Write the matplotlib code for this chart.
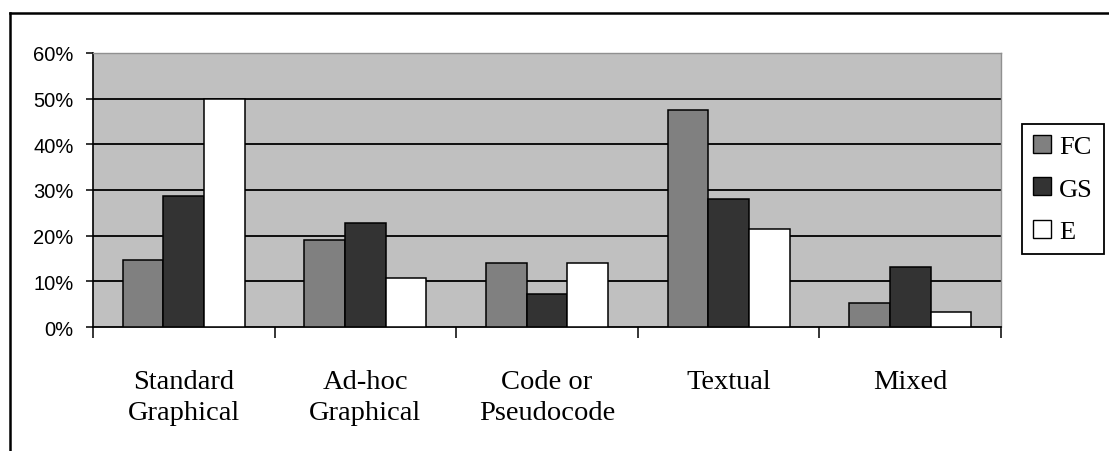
import matplotlib
matplotlib.use("Agg")
import matplotlib.pyplot as plt
from matplotlib.lines import Line2D
from matplotlib.patches import Patch
import numpy as np

categories = ["Standard\nGraphical", "Ad-hoc\nGraphical", "Code or\nPseudocode", "Textual", "Mixed"]
series_names = ["FC", "GS", "E"]
fc = [0.147, 0.191, 0.141, 0.475, 0.052]
gs = [0.286, 0.228, 0.072, 0.280, 0.132]
e = [0.500, 0.108, 0.140, 0.215, 0.032]
colors = ["#808080", "#333333", "#ffffff"]
yticks = [0.0, 0.1, 0.2, 0.3, 0.4, 0.5, 0.6]
ytick_labels = ["0%", "10%", "20%", "30%", "40%", "50%", "60%"]

W, H = 1109, 452
fig = plt.figure(figsize=(W / 100, H / 100), dpi=100)
ax = fig.add_axes([93 / W, 1 - 328 / H, (1001 - 93) / W, (328 - 54) / H])
ax.set_facecolor("#c0c0c0")

x = np.arange(len(categories))
bw = 0.224
for i, (vals, col, name) in enumerate(zip([fc, gs, e], colors, series_names)):
    ax.bar(x + (i - 1) * bw, vals, width=bw, color=col, edgecolor="black",
           linewidth=1.1, zorder=3, label=name)

ax.set_xlim(-0.5, len(categories) - 0.5)
ax.set_ylim(0, 0.6)
ax.set_yticks(yticks)
ax.set_yticklabels(ytick_labels, fontfamily="Liberation Sans", fontsize=14.5)
ax.tick_params(axis="y", direction="out", length=5, width=1.1, pad=9, color="black")
for yv in yticks[1:-1]:
    ax.axhline(yv, color="black", linewidth=1.3, zorder=1)

ax.set_xticks(np.arange(len(categories) + 1) - 0.5)
ax.set_xticklabels([])
ax.tick_params(axis="x", direction="out", length=8, width=1.1, color="black")
ax.set_xticks(x, minor=True)
ax.set_xticklabels(categories, minor=True, fontfamily="Liberation Serif", fontsize=20.5,
                   linespacing=1.32)
ax.tick_params(axis="x", which="minor", length=0, pad=30)

ax.spines["left"].set_color("black")
ax.spines["left"].set_linewidth(1.2)
ax.spines["bottom"].set_color("black")
ax.spines["bottom"].set_linewidth(1.3)
for s in ["top", "right"]:
    ax.spines[s].set_color("#909090")
    ax.spines[s].set_linewidth(1.0)

handles = [Patch(facecolor=c, edgecolor="black", linewidth=1.0) for c in colors]
leg = fig.legend(handles, series_names, loc="center left",
                 bbox_to_anchor=(1022 / W, 1 - 190 / H), bbox_transform=fig.transFigure,
                 prop={"family": "Liberation Serif", "size": 19},
                 frameon=True, fancybox=False, framealpha=1, edgecolor="black",
                 handlelength=0.68, handleheight=0.68, handletextpad=0.3,
                 labelspacing=0.72, borderpad=0.42, borderaxespad=0)
leg.get_frame().set_linewidth(1.3)

fig.add_artist(Line2D([10 / W, 10 / W], [0, 1 - 14 / H], transform=fig.transFigure,
                      color="black", linewidth=1.8))
fig.add_artist(Line2D([10 / W, 1], [1 - 14 / H, 1 - 14 / H], transform=fig.transFigure,
                      color="black", linewidth=1.8))

fig.savefig("out.png", dpi=100, facecolor="white")
